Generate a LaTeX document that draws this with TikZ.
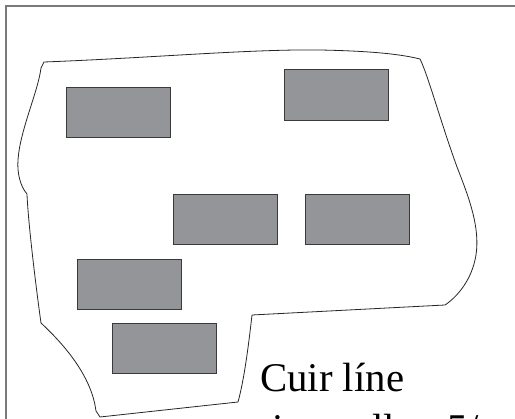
\documentclass[tikz,border=0pt]{standalone}
\usepackage{fontspec}
\setmainfont{Liberation Serif}
\definecolor{boxfill}{HTML}{939598}
\definecolor{boxline}{HTML}{3A3A3A}
\definecolor{framegray}{HTML}{7A7A7A}
\tikzset{
  parcel/.style={draw=boxline, fill=boxfill, line width=0.9pt, inner sep=0pt, minimum width=104pt, minimum height=50pt},
  outline/.style={draw=black!85, line width=0.8pt, line join=round},
  frameline/.style={draw=framegray, line width=1.4pt},
  label/.style={inner sep=0pt, anchor=base west, font=\fontsize{40.8}{47}\selectfont}
}
\begin{document}
\begin{tikzpicture}[x=1pt,y=-1pt]
\useasboundingbox (0,0) rectangle (515,419);
\clip (0,0) rectangle (515,419);
\fill[white] (0,0) rectangle (515,419);
% frame
\draw[frameline] (6,6) rectangle (540,440);
% field outline
\draw[outline]
  (44,62) .. controls (150,58) and (250,49) .. (320,50)
  .. controls (370,51) and (400,54) .. (420,59)
  .. controls (428,75) and (440,120) .. (457,167)
  .. controls (470,200) and (480,228) .. (476,255)
  .. controls (472,280) and (457,297) .. (445,305)
  -- (252,315)
  .. controls (248,350) and (244,380) .. (238,402)
  -- (100,417) -- (96,411)
  .. controls (92,380) and (70,350) .. (41,323)
  .. controls (35,280) and (28,220) .. (27,194)
  .. controls (20,186) and (17,172) .. (18,160)
  .. controls (20,130) and (38,92) .. (41,68)
  -- cycle;
% parcels
\node[parcel, minimum height=51pt] (b2) at (336,94.5) {};
\node[parcel] (b1) at (118,112) {};
\node[parcel] (b3) at (225,219) {};
\node[parcel] (b4) at (357,219) {};
\node[parcel] (b5) at (129,284) {};
\node[parcel] (b6) at (164,348) {};
% text
\node[label] (t1) at (260,392) {Cuir líne};
\node[label] (t2) at (261,443) {timpeall ar 5/};
\end{tikzpicture}
\end{document}
